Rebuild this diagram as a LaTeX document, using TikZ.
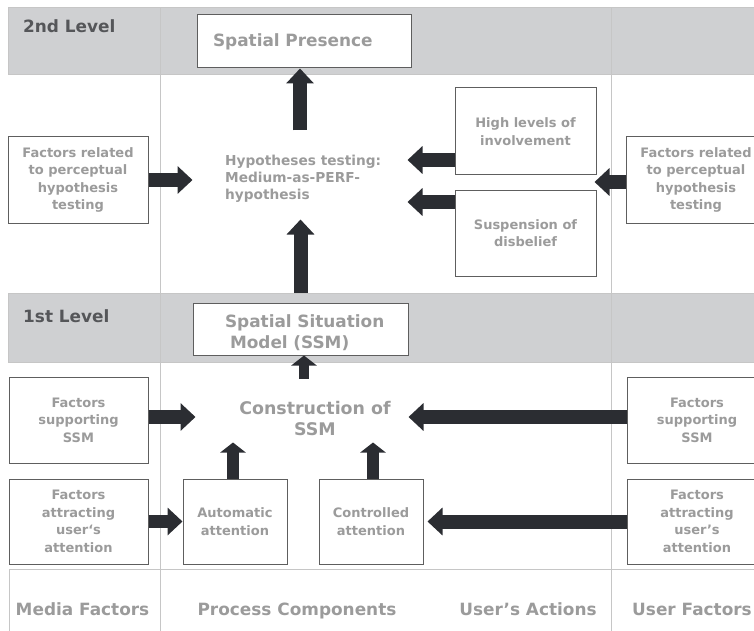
\documentclass[tikz,border=0pt]{standalone}
\usepackage{fontspec}
\setmainfont{DejaVu Sans}
\usetikzlibrary{arrows.meta}
\definecolor{bandc}{HTML}{CFD0D2}
\definecolor{gridc}{HTML}{C6C6C6}
\definecolor{txtc}{HTML}{9B9B9B}
\definecolor{lvlc}{HTML}{555659}
\definecolor{arrc}{HTML}{2B2D32}
\definecolor{bordc}{HTML}{5E5E5E}
\begin{document}
\begin{tikzpicture}[x=1pt,y=-1pt,
  box/.style={draw=bordc, line width=1pt, fill=white, text=txtc,
    font=\fontsize{13}{17.5}\selectfont\bfseries, align=center, inner sep=0pt},
  bigbox/.style={draw=bordc, line width=1pt, fill=white, text=txtc,
    font=\fontsize{16.9}{21}\selectfont\bfseries, align=left, inner ysep=0pt},
  bigtext/.style={text=txtc, font=\fontsize{16.9}{21}\selectfont\bfseries, inner sep=0pt},
  midtext/.style={text=txtc, font=\fontsize{13.7}{17}\selectfont\bfseries, inner sep=0pt},
  lvltext/.style={text=lvlc, font=\fontsize{16.9}{21}\selectfont\bfseries, inner sep=0pt},
  fat/.style={draw=arrc, line width=14pt, -{Triangle[width=27pt,length=15pt]}},
  thin/.style={draw=arrc, line width=10pt, -{Triangle[width=25pt,length=10pt]}},
  gridline/.style={draw=gridc, line width=1pt}]
\useasboundingbox (0,0) rectangle (754,631);
% bands
\filldraw[fill=bandc, draw=gridc, line width=1pt] (8,8) rectangle (760,75);
\filldraw[fill=bandc, draw=gridc, line width=1pt] (8,293) rectangle (760,362);
% grid lines
\draw[gridline] (160,8) -- (160,631);
\draw[gridline] (611,8) -- (611,631);
\draw[gridline] (9,569) -- (760,569);
\draw[gridline] (9,569) -- (9,631);
% level labels
\node[lvltext, anchor=base west] (l2) at (23,33) {2nd Level};
\node[lvltext, anchor=base west] (l1) at (23,322) {1st Level};
% 2nd level
\node[bigbox, minimum width=214pt, minimum height=53pt, text width=182pt, inner xsep=16pt] (sp) at (304,41.5) {Spatial Presence};
\node[midtext, anchor=north west, align=left] (hyp) at (225,155) {Hypotheses testing:\\Medium-as-PERF-\\hypothesis};
\node[box, minimum width=140pt, minimum height=86pt] (lf2) at (78,180) {Factors related\\to perceptual\\hypothesis\\testing};
\node[box, minimum width=141pt, minimum height=87pt] (hi) at (525.5,131.5) {High levels of\\involvement};
\node[box, minimum width=141pt, minimum height=86pt] (sus) at (525.5,233) {Suspension of\\disbelief};
\node[box, minimum width=140pt, minimum height=86pt] (rf2) at (696,180) {Factors related\\to perceptual\\hypothesis\\testing};
% 1st level
\node[bigbox, minimum width=215pt, minimum height=52pt, text width=199pt, inner xsep=8pt] (ssm) at (300.5,329) {\rule{0pt}{21pt}\hspace*{24pt}Spatial Situation\\\hspace*{29pt}Model (SSM)};
\node[bigtext, align=center, font=\fontsize{17.4}{21}\selectfont\bfseries] (cons) at (315,419) {Construction of\\SSM};
\node[box, minimum width=139pt, minimum height=86pt] (lf1) at (78.5,420) {Factors\\supporting\\SSM};
\node[box, minimum width=140pt, minimum height=86pt] (rf1) at (697,420) {Factors\\supporting\\SSM};
\node[box, minimum width=139pt, minimum height=85pt] (la) at (78.5,521.5) {Factors\\attracting\\user\symbol{96}s\\attention};
\node[box, minimum width=104pt, minimum height=85pt] (auto) at (235,521.5) {Automatic\\attention};
\node[box, minimum width=104pt, minimum height=85pt] (ctrl) at (371,521.5) {Controlled\\attention};
\node[box, minimum width=140pt, minimum height=85pt] (ra) at (697,521.5) {Factors\\attracting\\user’s\\attention};
% bottom labels
\node[bigtext, anchor=base] (mf) at (82.5,615) {Media Factors};
\node[bigtext, anchor=base] (pc) at (297,615) {Process Components};
\node[bigtext, anchor=base] (ua) at (528,615) {User’s Actions};
\node[bigtext, anchor=base] (uf) at (692,615) {User Factors};
% arrows
\draw[fat] ([xshift=-4pt,yshift=-62pt]sp.south) -- ([xshift=-4pt]sp.south);
\draw[fat] ([yshift=10pt]ssm.north) -- ([yshift=83pt]ssm.north);
\draw[fat] (lf2.east) -- ([xshift=44pt]lf2.east);
\draw[fat] ([yshift=-28.5pt]hi.west) -- ([xshift=-47pt,yshift=-28.5pt]hi.west);
\draw[fat] ([yshift=31pt]sus.west) -- ([xshift=-47pt,yshift=31pt]sus.west);
\draw[fat] ([yshift=-2pt]rf2.west) -- ([xshift=-31pt,yshift=-2pt]rf2.west);
\draw[thin] ([xshift=3.5pt,yshift=-23pt]ssm.south) -- ([xshift=3.5pt]ssm.south);
\draw[fat] ([yshift=3pt]lf1.east) -- ([xshift=47pt,yshift=3pt]lf1.east);
\draw[fat] ([yshift=3pt]rf1.west) -- ([xshift=-218pt,yshift=3pt]rf1.west);
\draw[thin, line width=12pt] ([xshift=-2pt]auto.north) -- ([xshift=-2pt,yshift=36pt]auto.north);
\draw[thin, line width=12pt] ([xshift=2pt]ctrl.north) -- ([xshift=2pt,yshift=36pt]ctrl.north);
\draw[fat, line width=13pt] (la.east) -- (auto.west);
\draw[fat] (ra.west) -- ([xshift=4pt]ctrl.east);
\end{tikzpicture}
\end{document}
